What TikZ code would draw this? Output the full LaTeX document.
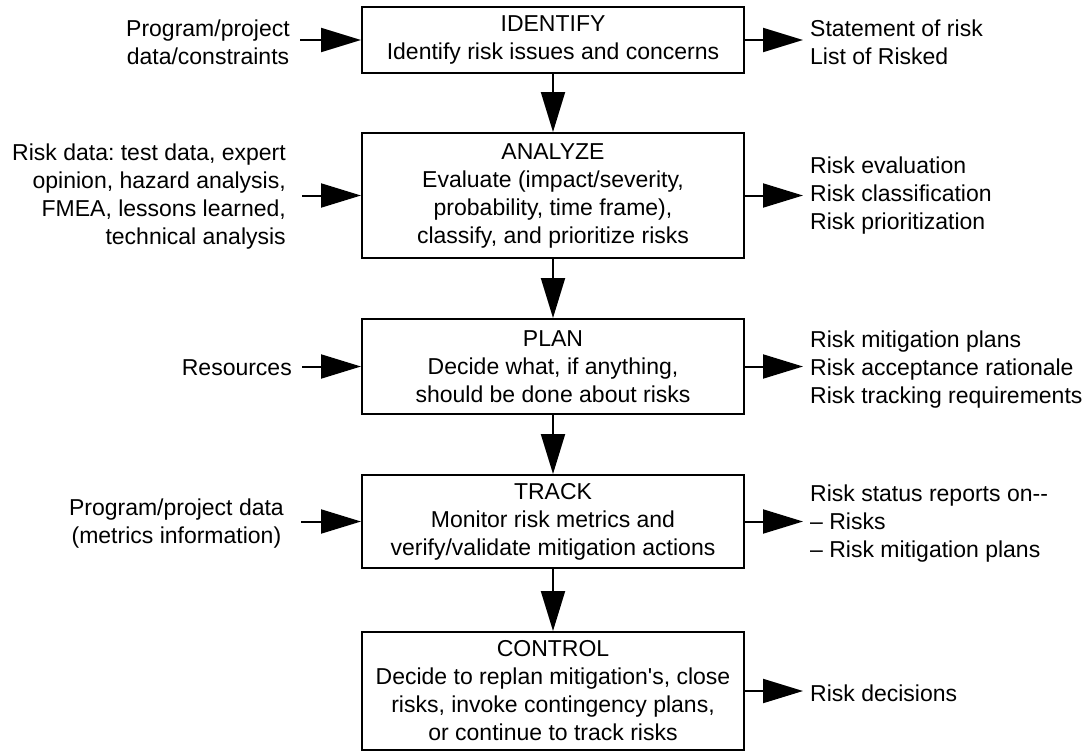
\documentclass[tikz,border=0pt]{standalone}
\usepackage{fontspec}
\setmainfont{Liberation Sans}[Ligatures=TeXOff]
\usetikzlibrary{arrows.meta}
\frenchspacing
\begin{document}
\begin{tikzpicture}[x=1pt,y=-1pt,
  every node/.style={font=\fontsize{23}{28}\selectfont},
  stage/.style={draw, line width=2pt, minimum width=382pt, inner sep=0pt, align=center},
  lbl/.style={inner sep=0pt},
  arr/.style={line width=2pt, -{Triangle[length=40pt,width=24pt]}}]
\useasboundingbox (0,0) rectangle (1089,752);

% process stages
\node[stage, minimum height=66pt]  (identify) at (553,40)    {IDENTIFY\\Identify risk issues and concerns};
\node[stage, minimum height=125pt] (analyze)  at (553,195.5) {ANALYZE\\Evaluate (impact/severity,\\probability, time frame),\\classify, and prioritize risks};
\node[stage, minimum height=95pt]  (plan)     at (553,366.5) {PLAN\\Decide what, if anything,\\should be done about risks};
\node[stage, minimum height=93pt]  (track)    at (553,521.5) {TRACK\\Monitor risk metrics and\\verify/validate mitigation actions};
\node[stage, minimum height=118pt] (control)  at (553,691)   {CONTROL\\Decide to replan mitigation's, close\\risks, invoke contingency plans,\\or continue to track risks};

% flow between stages
\draw[arr] (identify.south) -- (analyze.north);
\draw[arr] (analyze.south)  -- (plan.north);
\draw[arr] (plan.south)     -- (track.north);
\draw[arr] (track.south)    -- (control.north);

% inputs
\node[lbl, anchor=east, align=center] (in1) at (290,42)  {Program/project\\data/constraints};
\node[lbl, anchor=east, align=right]  (in2) at (286,197) {Risk data: test data, expert\\opinion, hazard analysis,\\FMEA, lessons learned,\\technical analysis};
\node[lbl, anchor=east]               (in3) at (292,368) {Resources};
\node[lbl, anchor=east, align=center] (in4) at (284,524) {Program/project data\\(metrics information)};

\draw[arr] ([xshift=10pt]in1.east |- identify.west) -- (identify.west);
\draw[arr] ([xshift=16pt]in2.east |- analyze.west)  -- (analyze.west);
\draw[arr] ([xshift=10pt]in3.east |- plan.west)     -- (plan.west);
\draw[arr] ([xshift=17pt]in4.east |- track.west)    -- (track.west);

% outputs
\node[lbl, anchor=west, align=left] (out1) at (810,42)  {Statement of risk\\List of Risked};
\node[lbl, anchor=west, align=left] (out2) at (810,196) {Risk evaluation\\Risk classification\\Risk prioritization};
\node[lbl, anchor=west, align=left] (out3) at (810,370) {Risk mitigation plans\\Risk acceptance rationale\\Risk tracking requirements};
\node[lbl, anchor=west, align=left] (out4) at (810,524) {Risk status reports on--\\– Risks\\– Risk mitigation plans};
\node[lbl, anchor=west]             (out5) at (810,693) {Risk decisions};

\draw[arr] (identify.east) -- ([xshift=-7pt]out1.west |- identify.east);
\draw[arr] (analyze.east)  -- ([xshift=-7pt]out2.west |- analyze.east);
\draw[arr] (plan.east)     -- ([xshift=-7pt]out3.west |- plan.east);
\draw[arr] (track.east)    -- ([xshift=-7pt]out4.west |- track.east);
\draw[arr] (control.east)  -- ([xshift=-7pt]out5.west |- control.east);
\end{tikzpicture}
\end{document}
